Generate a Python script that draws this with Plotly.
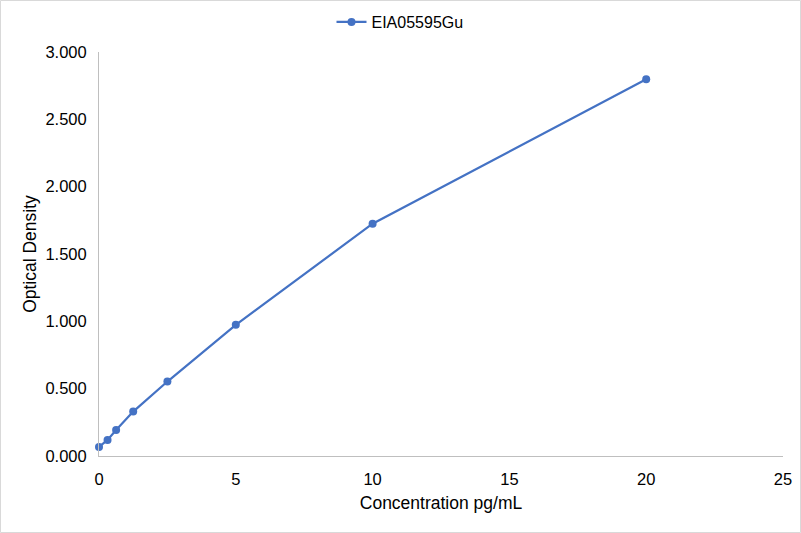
import plotly.graph_objects as go

concentration = [0, 0.3125, 0.625, 1.25, 2.5, 5, 10, 20]
optical_density = [0.067, 0.119, 0.193, 0.330, 0.553, 0.974, 1.725, 2.797]
series_name = "EIA05595Gu"
x_ticks = [0, 5, 10, 15, 20, 25]
y_ticks = [0, 0.5, 1.0, 1.5, 2.0, 2.5, 3.0]

W, H = 801, 533
L, R, T, B = 99, 18, 52, 77
pw, ph = W - L - R, H - T - B

fig = go.Figure()
fig.add_trace(go.Scatter(
    x=concentration, y=optical_density, name=series_name,
    mode="lines+markers",
    line=dict(color="#4472C4", width=2.2),
    marker=dict(color="#4472C4", size=8),
    cliponaxis=False,
))

fam = "Liberation Sans, Arial, sans-serif"
tick_font = dict(family=fam, size=16.5, color="#000000")
title_font = dict(family=fam, size=17.5, color="#000000")
legend_font = dict(family=fam, size=16, color="#000000")
fig.update_layout(
    width=W, height=H,
    margin=dict(l=L, r=R, t=T, b=B, autoexpand=False),
    paper_bgcolor="white", plot_bgcolor="white",
    font=tick_font,
    showlegend=True,
    legend=dict(orientation="h", x=(400 - L) / pw, xanchor="center",
                y=1 + (T - 22) / ph, yanchor="middle", font=legend_font),
    xaxis=dict(range=[0, 25], tickvals=x_ticks, showgrid=False, zeroline=False,
               showline=True, linecolor="#BFBFBF", linewidth=1,
               ticks="outside", ticklen=8, tickcolor="rgba(0,0,0,0)",
               title=dict(text="Concentration pg/mL", standoff=9, font=title_font),
               tickfont=tick_font, automargin=False),
    yaxis=dict(range=[0, 3], tickvals=y_ticks, tickformat=".3f", showgrid=False,
               zeroline=False, showline=True, linecolor="#BFBFBF", linewidth=1,
               ticks="outside", ticklen=8, tickcolor="rgba(0,0,0,0)",
               title=dict(text="Optical Density", standoff=4, font=title_font),
               tickfont=tick_font, automargin=False),
)
fig.add_shape(type="rect", xref="paper", yref="paper",
              x0=(-L + 0.5) / pw, x1=1 + (R - 0.5) / pw,
              y0=(-B + 0.5) / ph, y1=1 + (T - 0.5) / ph,
              line=dict(color="#D9D9D9", width=1), layer="below")
fig.write_html("out.html", config={"displayModeBar": False},
               post_script="document.body.style.margin='0';")
